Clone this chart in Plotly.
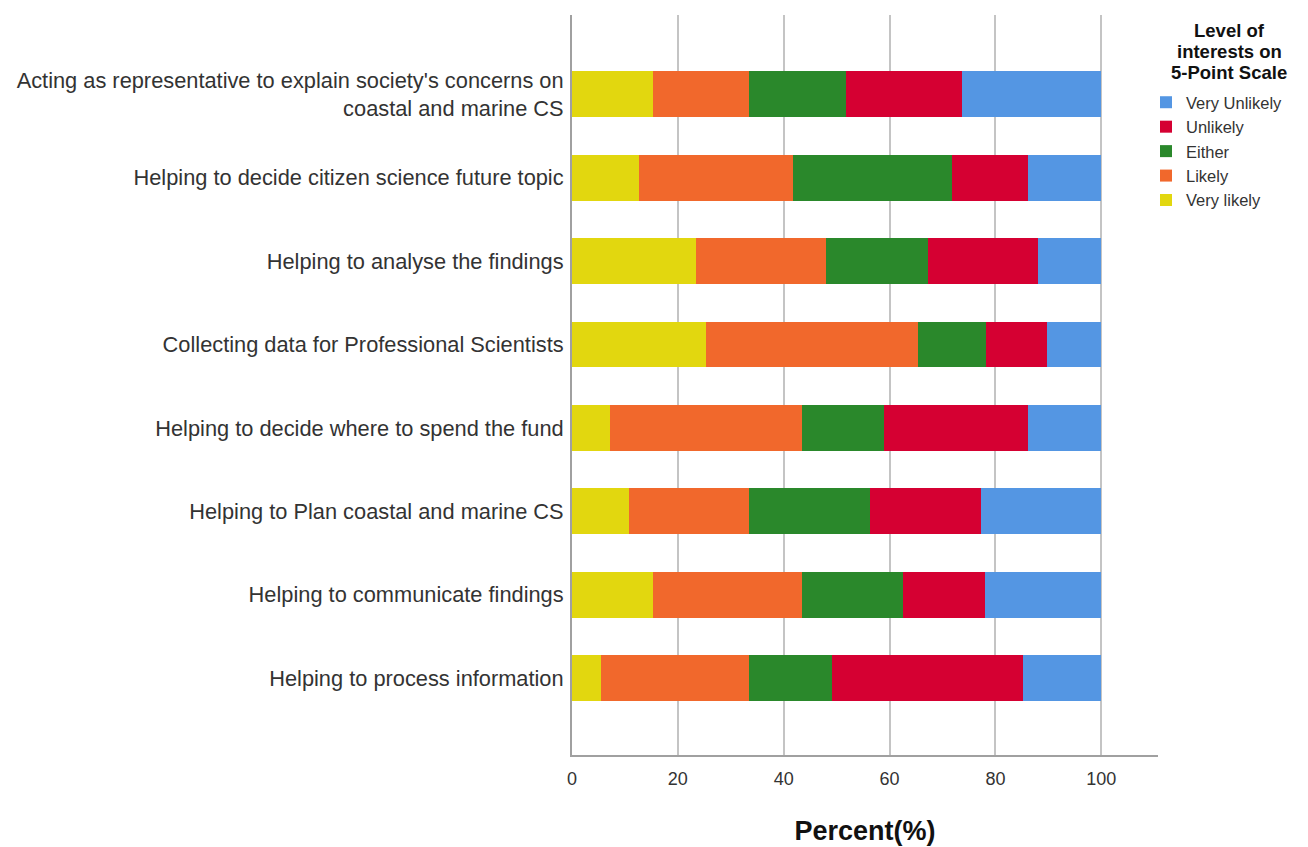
import plotly.graph_objects as go

# Activities rated, top to bottom
activities = [
    "Acting as representative to explain society's concerns on<br>coastal and marine CS",
    "Helping to decide citizen science future topic",
    "Helping to analyse the findings",
    "Collecting data for Professional Scientists",
    "Helping to decide where to spend the fund",
    "Helping to Plan coastal and marine CS",
    "Helping to communicate findings",
    "Helping to process information",
]

# Percent of respondents at each level of interest
very_likely   = [15.3, 12.6, 23.5, 25.4,  7.2, 10.7, 15.3,  5.4]
likely        = [18.2, 29.2, 24.5, 39.9, 36.3, 22.8, 28.2, 28.1]
either        = [18.3, 30.0, 19.2, 13.0, 15.5, 22.7, 19.1, 15.6]
unlikely      = [21.9, 14.4, 20.9, 11.5, 27.2, 21.0, 15.5, 36.1]
very_unlikely = [26.3, 13.8, 11.9, 10.2, 13.8, 22.8, 21.9, 14.8]

series = [
    ("Very likely", very_likely, "#E2D70F"),
    ("Likely", likely, "#F1682C"),
    ("Either", either, "#2A882B"),
    ("Unlikely", unlikely, "#D50032"),
    ("Very Unlikely", very_unlikely, "#5496E3"),
]

legend_title_lines = ["Level of", "interests on", "5-Point Scale"]

FONT = "Liberation Sans, Arial, sans-serif"

fig = go.Figure()
for name, vals, color in series:
    fig.add_trace(go.Bar(
        y=activities, x=vals, name=name, orientation="h",
        marker=dict(color=color, line=dict(width=0)),
        width=0.55,
    ))

# Centered, bold legend heading drawn line by line above the legend entries
for i, line in enumerate(legend_title_lines):
    fig.add_annotation(
        text=f"<b>{line}</b>",
        xref="paper", yref="paper",
        x=(1229 - 572) / 586, y=1 - (30 + 21.5 * i - 15) / 740,
        xanchor="center", yanchor="middle",
        showarrow=False,
        font=dict(size=18.5, color="#111111", family=FONT),
    )

fig.update_layout(
    barmode="stack",
    width=1308, height=847,
    margin=dict(l=572, r=150, t=15, b=92, autoexpand=False),
    plot_bgcolor="white", paper_bgcolor="white",
    font=dict(family=FONT, color="#222222"),
    legend=dict(
        traceorder="reversed",
        xref="container", yref="container",
        x=1146 / 1308, y=1 - 85 / 847,
        xanchor="left", yanchor="top",
        font=dict(size=16.5, color="#333333", family=FONT),
        itemwidth=30,
        bgcolor="rgba(0,0,0,0)",
    ),
    xaxis=dict(
        range=[0, 110.7],
        tickvals=[0, 20, 40, 60, 80, 100],
        showgrid=True, gridcolor="#C4C4C4", gridwidth=1.5,
        zeroline=False,
        showline=True, linecolor="#A0A0A0", linewidth=2,
        ticks="",
        ticklabelstandoff=6,
        tickfont=dict(size=18, color="#333333"),
        title=dict(text="<b>Percent(%)</b>", font=dict(size=27, color="#111111"), standoff=34),
    ),
    yaxis=dict(
        type="category",
        range=[7.92, -0.95],
        showgrid=False, zeroline=False,
        showline=True, linecolor="#A0A0A0", linewidth=2,
        ticks="",
        ticklabelstandoff=2,
        tickfont=dict(size=21.8, color="#333333"),
    ),
)

fig.write_html("out.html")
